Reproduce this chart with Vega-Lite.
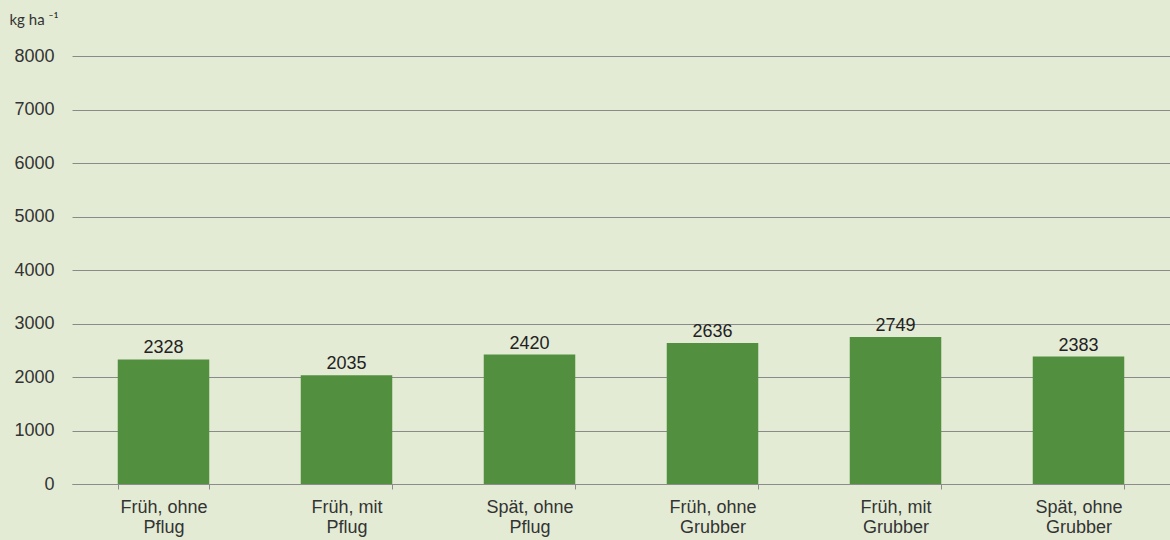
{
  "$schema": "https://vega.github.io/schema/vega-lite/v6.json",
  "width": 1098,
  "height": 428,
  "autosize": {"type": "none"},
  "padding": {"left": 72, "top": 56, "right": 0, "bottom": 56},
  "background": "#e3ebd5",
  "config": {"view": {"stroke": null}, "font": "Liberation Sans"},
  "data": {
    "values": [
      {"variante": "Früh, ohne Pflug", "ertrag": 2328},
      {"variante": "Früh, mit Pflug", "ertrag": 2035},
      {"variante": "Spät, ohne Pflug", "ertrag": 2420},
      {"variante": "Früh, ohne Grubber", "ertrag": 2636},
      {"variante": "Früh, mit Grubber", "ertrag": 2749},
      {"variante": "Spät, ohne Grubber", "ertrag": 2383}
    ]
  },
  "encoding": {
    "x": {
      "field": "variante",
      "type": "nominal",
      "sort": null,
      "scale": {"paddingInner": 0.5, "paddingOuter": 0.25},
      "axis": {
        "title": null,
        "labelAngle": 0,
        "labelFontSize": 18,
        "labelColor": "#333333",
        "labelPadding": 9,
        "labelLineHeight": 20,
        "labelExpr": "[substring(datum.label, 0, lastindexof(datum.label, ' ')), substring(datum.label, lastindexof(datum.label, ' ') + 1)]",
        "domainColor": "#8c8c8c",
        "tickColor": "#8c8c8c",
        "tickBand": "extent",
        "tickSize": 5,
        "grid": false
      }
    },
    "y": {
      "field": "ertrag",
      "type": "quantitative",
      "scale": {"domain": [0, 8000], "nice": false},
      "axis": {
        "values": [0, 1000, 2000, 3000, 4000, 5000, 6000, 7000, 8000],
        "format": "d",
        "title": "kg ha ⁻¹",
        "titleAngle": 0,
        "titleAlign": "left",
        "titleBaseline": "middle",
        "titleX": -63,
        "titleY": -37,
        "titleFont": "Lato",
        "titleFontSize": 15,
        "titleFontWeight": "normal",
        "titleColor": "#333333",
        "labelFontSize": 18,
        "labelColor": "#333333",
        "labelPadding": 18,
        "domain": false,
        "ticks": false,
        "gridColor": "#8a8a8a",
        "gridWidth": 1
      }
    }
  },
  "layer": [
    {"mark": {"type": "bar", "color": "#52903f"}},
    {
      "mark": {"type": "text", "baseline": "bottom", "dy": -2, "fontSize": 18, "color": "#222222"},
      "encoding": {"text": {"field": "ertrag", "type": "quantitative", "format": "d"}}
    }
  ]
}
